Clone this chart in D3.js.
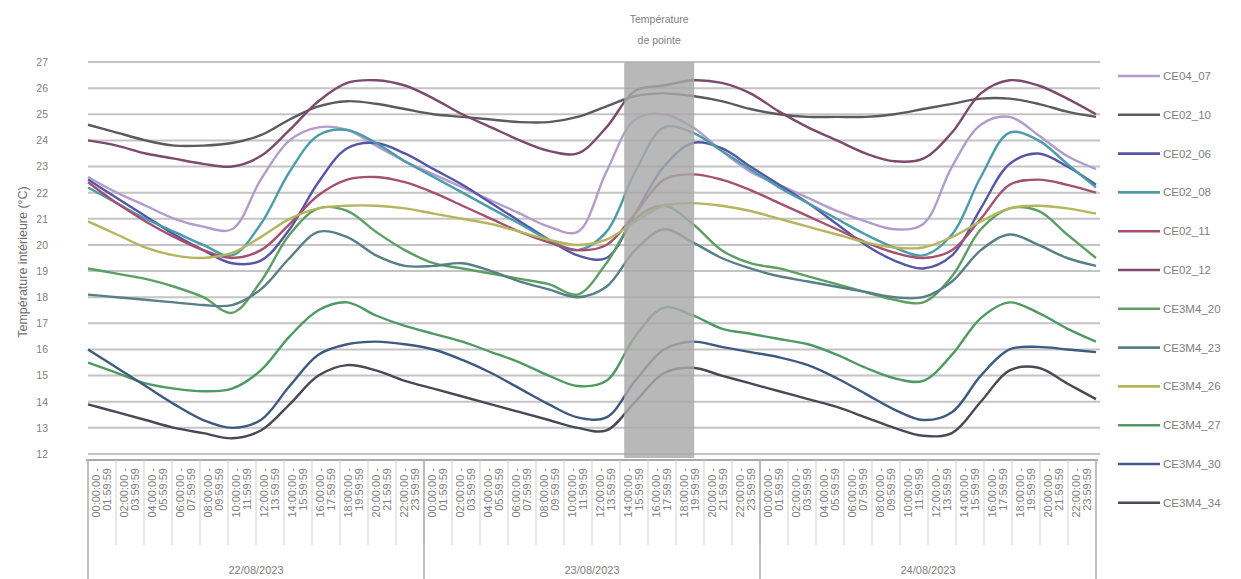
<!DOCTYPE html>
<html>
<head>
<meta charset="utf-8">
<script src="https://cdn.jsdelivr.net/npm/d3@7"></script>
<style>
  html, body { margin: 0; padding: 0; background: #fff; }
  svg { display: block; font-family: "Liberation Sans", Arial, sans-serif; }
</style>
</head>
<body>
<svg id="chart" width="1241" height="579"></svg>
<script>
// Days shown on the lower level of the category axis
const days = ["22/08/2023", "23/08/2023", "24/08/2023"];

// Two-hour slots shown on the upper level of the category axis
const slotStart = ["00:00:00","02:00:00","04:00:00","06:00:00","08:00:00","10:00:00",
                   "12:00:00","14:00:00","16:00:00","18:00:00","20:00:00","22:00:00"];
const slotEnd   = ["01:59:59","03:59:59","05:59:59","07:59:59","09:59:59","11:59:59",
                   "13:59:59","15:59:59","17:59:59","19:59:59","21:59:59","23:59:59"];

// Y axis ticks (°C)
const yTicks = d3.range(12, 28);

// Shaded peak period, in slot units counted from the first slot of the first day
const peakSpan = [19.15, 21.65];
const peakLabel = ["Température", "de pointe"];

// Sensor names (legend order)
const seriesNames = ["CE04_07","CE02_10","CE02_06","CE02_08","CE02_11","CE02_12",
                     "CE3M4_20","CE3M4_23","CE3M4_26","CE3M4_27","CE3M4_30","CE3M4_34"];
const seriesColors = ["#b29ccc","#5b5b5b","#5656a6","#4c9bab","#a3516f","#7d4a6e",
                      "#5c9f62","#587f88","#b5b55e","#4f9a62","#3e5a80","#474a55"];

// Indoor temperature per two-hour slot, 36 slots (°C)
const ce04_07 = [22.6,22.0,21.5,21.0,20.7,20.6,22.5,24.0,24.5,24.4,23.8,23.2,
                 22.7,22.2,21.7,21.2,20.7,20.5,22.8,24.8,25.0,24.5,23.6,22.8,
                 22.3,21.8,21.3,20.9,20.6,20.8,23.0,24.6,24.9,24.2,23.4,22.9];
const ce02_10 = [24.6,24.3,24.0,23.8,23.8,23.9,24.2,24.8,25.3,25.5,25.4,25.2,
                 25.0,24.9,24.8,24.7,24.7,24.9,25.3,25.7,25.8,25.7,25.5,25.2,
                 25.0,24.9,24.9,24.9,25.0,25.2,25.4,25.6,25.6,25.4,25.1,24.9];
const ce02_06 = [22.5,21.8,21.1,20.4,19.8,19.3,19.4,20.6,22.4,23.7,23.9,23.5,
                 22.9,22.3,21.6,20.9,20.2,19.6,19.5,21.2,23.0,23.9,23.7,23.0,
                 22.3,21.6,20.8,20.0,19.4,19.1,19.6,21.4,23.1,23.5,23.0,22.3];
const ce02_08 = [22.2,21.6,21.0,20.5,20.0,19.6,20.8,22.8,24.2,24.4,23.9,23.2,
                 22.6,22.0,21.4,20.8,20.2,19.8,20.5,22.8,24.5,24.3,23.6,22.9,
                 22.2,21.6,21.0,20.4,19.9,19.6,20.4,22.6,24.3,24.0,23.1,22.2];
const ce02_11 = [22.4,21.6,20.9,20.3,19.8,19.5,19.8,20.8,21.9,22.5,22.6,22.4,
                 22.0,21.5,21.0,20.5,20.1,19.8,20.0,21.2,22.5,22.7,22.5,22.1,
                 21.6,21.1,20.6,20.1,19.7,19.5,19.8,21.0,22.3,22.5,22.3,22.0];
const ce02_12 = [24.0,23.8,23.5,23.3,23.1,23.0,23.4,24.4,25.5,26.2,26.3,26.1,
                 25.6,25.0,24.5,24.0,23.6,23.5,24.5,25.9,26.1,26.3,26.2,25.8,
                 25.1,24.5,24.0,23.5,23.2,23.3,24.3,25.8,26.3,26.1,25.6,25.0];
const ce3m4_20 = [19.1,18.9,18.7,18.4,18.0,17.4,18.6,20.4,21.4,21.3,20.5,19.8,
                  19.3,19.1,18.9,18.7,18.5,18.1,19.3,21.0,21.5,20.8,19.8,19.3,
                  19.1,18.8,18.5,18.2,17.9,17.8,18.8,20.6,21.4,21.3,20.4,19.5];
const ce3m4_23 = [18.1,18.0,17.9,17.8,17.7,17.7,18.3,19.5,20.5,20.3,19.6,19.2,
                  19.2,19.3,19.0,18.6,18.3,18.0,18.4,19.8,20.6,20.1,19.5,19.1,
                  18.8,18.6,18.4,18.2,18.0,18.0,18.6,19.8,20.4,20.0,19.5,19.2];
const ce3m4_26 = [20.9,20.4,19.9,19.6,19.5,19.7,20.3,21.0,21.4,21.5,21.5,21.4,
                  21.2,21.0,20.8,20.5,20.2,20.0,20.2,20.9,21.5,21.6,21.5,21.3,
                  21.0,20.7,20.4,20.1,19.9,19.9,20.3,20.9,21.4,21.5,21.4,21.2];
const ce3m4_27 = [15.5,15.1,14.7,14.5,14.4,14.5,15.2,16.5,17.5,17.8,17.3,16.9,
                  16.6,16.3,15.9,15.5,15.0,14.6,14.8,16.5,17.6,17.3,16.8,16.6,
                  16.4,16.2,15.8,15.3,14.9,14.8,15.8,17.2,17.8,17.4,16.8,16.3];
const ce3m4_30 = [16.0,15.3,14.6,13.9,13.3,13.0,13.3,14.6,15.8,16.2,16.3,16.2,
                  16.0,15.6,15.1,14.5,13.9,13.4,13.4,14.8,16.0,16.3,16.1,15.9,
                  15.7,15.4,14.9,14.3,13.7,13.3,13.6,15.0,16.0,16.1,16.0,15.9];
const ce3m4_34 = [13.9,13.6,13.3,13.0,12.8,12.6,12.9,13.9,15.0,15.4,15.2,14.8,
                  14.5,14.2,13.9,13.6,13.3,13.0,12.9,14.0,15.1,15.3,15.0,14.7,
                  14.4,14.1,13.8,13.4,13.0,12.7,12.8,14.0,15.2,15.3,14.7,14.1];

const seriesValues = [ce04_07, ce02_10, ce02_06, ce02_08, ce02_11, ce02_12,
                      ce3m4_20, ce3m4_23, ce3m4_26, ce3m4_27, ce3m4_30, ce3m4_34];

// ---- layout ----
const svg = d3.select("#chart");
const plot = { left: 88, right: 1096, top: 62, bottom: 454 };
const axisTop = 460;

// Categories: one per day/slot pair
const categories = [];
days.forEach((d, di) => slotStart.forEach((s, si) => categories.push({ key: di + "|" + si, day: di, slot: si })));
const keys = categories.map(c => c.key);

const xBand = d3.scaleBand().domain(keys).range([plot.left, plot.right]).padding(0);
const xPoint = d3.scalePoint().domain(keys).range([plot.left, plot.right]).padding(0);
const xSlot = d3.scaleLinear().domain([0, keys.length]).range([plot.left, plot.right]);
const y = d3.scaleLinear().domain([12, 27]).range([plot.bottom, plot.top]);

// Horizontal gridlines
svg.append("g").selectAll("line").data(yTicks).join("line")
  .attr("x1", plot.left).attr("x2", plot.right + 4)
  .attr("y1", d => y(d)).attr("y2", d => y(d))
  .attr("stroke", "#c4c4c4").attr("stroke-width", 2);

// Y tick labels
const yAxis = d3.axisLeft(y).tickValues(yTicks).tickSize(0).tickPadding(0).tickFormat(d3.format("d"));
const gy = svg.append("g").attr("transform", `translate(${plot.left - 40},0)`).call(yAxis);
gy.select(".domain").remove();
gy.selectAll("text").attr("font-size", 10.5).attr("fill", "#808080").attr("font-family", "Liberation Sans, Arial, sans-serif");

// Y axis title
svg.append("text")
  .attr("transform", `translate(27,${(plot.top + plot.bottom) / 2 + 4}) rotate(-90)`)
  .attr("text-anchor", "middle")
  .attr("font-size", 12.5).attr("fill", "#707070")
  .text("Température intérieure (°C)");

// Series lines
const line = d3.line()
  .x((v, i) => xPoint(keys[i]))
  .y(v => y(v))
  .curve(d3.curveCatmullRom.alpha(0.5));

svg.append("g").selectAll("path").data(seriesValues).join("path")
  .attr("d", d => line(d))
  .attr("fill", "none")
  .attr("stroke", (d, i) => seriesColors[i])
  .attr("stroke-width", 2.4)
  .attr("stroke-linejoin", "round");

// Shaded peak period
svg.append("rect")
  .attr("x", xSlot(peakSpan[0])).attr("width", xSlot(peakSpan[1]) - xSlot(peakSpan[0]))
  .attr("y", y(27)).attr("height", y(12) - y(27) + 4)
  .attr("fill", "#a8a8a8").attr("fill-opacity", 0.82);

svg.append("g").selectAll("text").data(peakLabel).join("text")
  .attr("x", (xSlot(peakSpan[0]) + xSlot(peakSpan[1])) / 2)
  .attr("y", (d, i) => 23 + i * 21)
  .attr("text-anchor", "middle").attr("font-size", 10.5).attr("fill", "#808080")
  .text(d => d);

// Category axis: frame lines
const axisG = svg.append("g");
axisG.append("line")
  .attr("x1", plot.left - 2).attr("x2", plot.right + 2)
  .attr("y1", axisTop).attr("y2", axisTop)
  .attr("stroke", "#a8a8a8").attr("stroke-width", 2);

// Slot separators
axisG.selectAll("line.slot").data(keys.slice(1)).join("line").attr("class", "slot")
  .attr("x1", d => xBand(d)).attr("x2", d => xBand(d))
  .attr("y1", axisTop).attr("y2", 545)
  .attr("stroke", "#cfcfcf").attr("stroke-width", 1);

// Day separators
const dayEdges = d3.range(days.length + 1).map(i => xSlot(i * slotStart.length));
axisG.selectAll("line.day").data(dayEdges).join("line").attr("class", "day")
  .attr("x1", d => d).attr("x2", d => d)
  .attr("y1", axisTop).attr("y2", 579)
  .attr("stroke", "#b0b0b0").attr("stroke-width", 1.6);

// Slot labels (rotated, two lines)
const slotG = axisG.selectAll("g.slotlab").data(categories).join("g").attr("class", "slotlab")
  .attr("transform", d => `translate(${xBand(d.key) + xBand.bandwidth() / 2},${axisTop + 8}) rotate(-90)`);
slotG.append("text").attr("text-anchor", "end").attr("y", -2.5)
  .attr("font-size", 11).attr("fill", "#7e7e7e").text(d => slotStart[d.slot] + " -");
slotG.append("text").attr("text-anchor", "end").attr("y", 8.5)
  .attr("font-size", 11).attr("fill", "#7e7e7e").text(d => slotEnd[d.slot]);

// Day labels
axisG.selectAll("text.daylab").data(days).join("text").attr("class", "daylab")
  .attr("x", (d, i) => (dayEdges[i] + dayEdges[i + 1]) / 2)
  .attr("y", 574)
  .attr("text-anchor", "middle").attr("font-size", 11).attr("fill", "#7e7e7e")
  .text(d => d);

// Legend
const legend = svg.append("g").selectAll("g").data(seriesNames).join("g")
  .attr("transform", (d, i) => `translate(1118,${76 + i * 38.8})`);
legend.append("line").attr("x1", 0).attr("x2", 42).attr("y1", 0).attr("y2", 0)
  .attr("stroke", (d, i) => seriesColors[i]).attr("stroke-width", 2.6);
legend.append("text").attr("x", 45).attr("y", 4)
  .attr("font-size", 11.5).attr("fill", "#808080").text(d => d);
</script>
</body>
</html>
